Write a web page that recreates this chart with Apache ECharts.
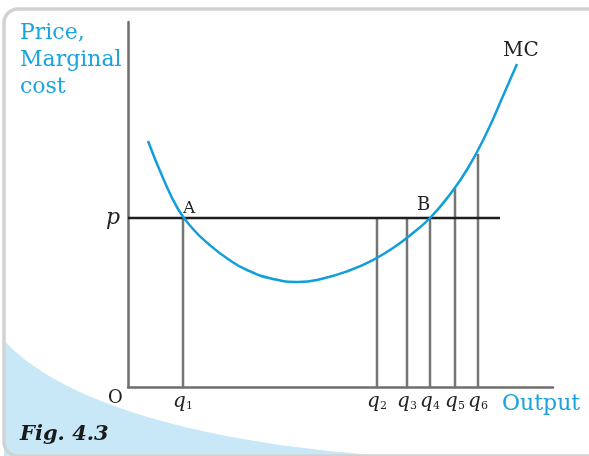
<!DOCTYPE html>
<html>
<head>
<meta charset="utf-8">
<script src="https://cdn.jsdelivr.net/npm/echarts@6/dist/echarts.min.js"></script>
<style>
html, body { margin: 0; padding: 0; background: #fff; }
#main { width: 589px; height: 456px; }
</style>
</head>
<body>
<div id="main"></div>
<script>
// output quantities q1..q6 and how high each guide line goes
var qNames = ['1', '2', '3', '4', '5', '6'];
var qValues = [55, 249, 279, 302, 327, 350];
var qTops = [169, 169, 169, 169, 199, 233];

// price line
var pValue = 169;
var pLineEnd = 372;

// marginal cost curve
var mcX = [20, 35, 50, 65, 80, 100, 120, 145, 170, 195, 220, 245, 265, 285, 302, 320, 340, 360, 375, 389];
var mcY = [246, 209, 178, 158, 143.5, 128, 116.5, 108, 105, 108.5, 116, 127, 139, 154, 169, 190, 219, 257, 291, 323];

var cyan = '#1aa3dd';
var serif = 'DejaVu Serif';

var mcData = [];
for (var i = 0; i < mcX.length; i++) mcData.push([mcX[i], mcY[i]]);

var series = [];
// vertical guide lines
qValues.forEach(function (q, i) {
	series.push({
		type: 'line',
		data: [[q, 0], [q, qTops[i]]],
		symbol: 'none',
		lineStyle: { color: '#767676', width: 2.5 },
		z: 1
	});
});
// price line p
series.push({
	type: 'line',
	data: [[0, pValue], [pLineEnd, pValue]],
	symbol: 'none',
	lineStyle: { color: '#1e1e1e', width: 2.5 },
	z: 2
});
// MC curve
series.push({
	name: 'MC',
	type: 'line',
	data: mcData,
	smooth: 0.5,
	symbol: 'none',
	lineStyle: { color: '#129fd9', width: 2.5 },
	z: 3
});

function txt(left, y, text, size, color, style, weight) {
	return {
		type: 'text', left: left, top: y - size / 2, z: 100,
		style: {
			text: text, fill: color, fontFamily: serif, fontSize: size,
			fontStyle: style || 'normal', fontWeight: weight || 'normal'
		}
	};
}

// light blue swoosh in the lower left corner of the frame
var swoosh = [];
for (var t = 0; t <= 1.0001; t += 0.04) {
	var u = 1 - t;
	swoosh.push([
		u * u * u * 4 + 3 * u * u * t * 40 + 3 * u * t * t * 150 + t * t * t * 420,
		u * u * u * 340 + 3 * u * u * t * 382 + 3 * u * t * t * 444 + t * t * t * 458
	]);
}
swoosh.push([4, 458]);

var myChart = echarts.init(document.getElementById('main'));

option = {
	backgroundColor: '#fff',
	animation: false,
	grid: { left: 128, top: 22, width: 425, height: 365 },
	xAxis: {
		type: 'value', min: 0, max: 425,
		splitLine: { show: false },
		axisTick: { show: false },
		axisLine: { lineStyle: { color: '#6e6e6e', width: 2.5 } },
		axisLabel: {
			customValues: qValues,
			margin: 5,
			formatter: function (v) {
				var i = qValues.indexOf(v);
				return '{q|q}{s|' + qNames[i] + '}';
			},
			rich: {
				q: { fontFamily: serif, fontStyle: 'italic', fontSize: 20, color: '#222' },
				s: { fontFamily: serif, fontSize: 11, color: '#222', verticalAlign: 'bottom' }
			}
		}
	},
	yAxis: {
		type: 'value', min: 0, max: 365,
		splitLine: { show: false },
		axisTick: { show: false },
		axisLine: { lineStyle: { color: '#6e6e6e', width: 2.5 } },
		axisLabel: {
			customValues: [pValue],
			margin: 8,
			formatter: function () { return 'p'; },
			fontFamily: serif, fontStyle: 'italic', fontSize: 22, color: '#222'
		}
	},
	graphic: [
		{
			type: 'rect', z: -20, silent: true,
			shape: { x: 4, y: 9, width: 700, height: 447, r: 14 },
			style: { fill: '#fff', stroke: 'none' }
		},
		{
			type: 'polygon', z: -15, silent: true,
			shape: { points: swoosh },
			style: { fill: '#c8e8f8' }
		},
		{
			type: 'rect', z: -10, silent: true,
			shape: { x: 4, y: 9, width: 700, height: 447, r: 14 },
			style: { fill: 'none', stroke: '#d2d2d2', lineWidth: 3.5 }
		},
		txt(20, 33.5, 'Price,', 22, cyan),
		txt(20, 60, 'Marginal', 22, cyan),
		txt(20, 87, 'cost', 22, cyan),
		txt(503, 50.5, 'MC', 20, '#222'),
		txt(183, 209, 'A', 17, '#222'),
		txt(417, 205, 'B', 18, '#222'),
		txt(108, 398.5, 'O', 18, '#222'),
		txt(502, 404.5, 'Output', 22, cyan),
		txt(20, 435, 'Fig. 4.3', 21, '#1a1a1a', 'italic', 'bold')
	],
	series: series
};

myChart.setOption(option);
</script>
</body>
</html>
